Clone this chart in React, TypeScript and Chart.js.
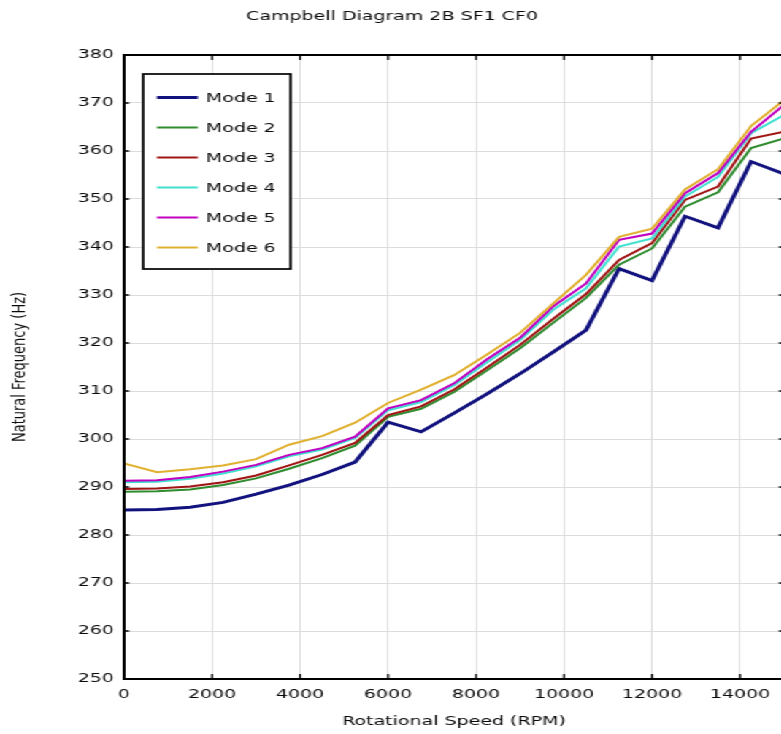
import React, { useEffect, useRef } from "react";
import { Chart, registerables } from "chart.js";

Chart.register(...registerables);

// ---- data ----
const speeds = [0, 750, 1500, 2250, 3000, 3750, 4500, 5250, 6000, 6750, 7500, 8250, 9000, 9750, 10500, 11250, 12000, 12750, 13500, 14250, 15000];

const mode1 = [285.2, 285.3, 285.8, 286.8, 288.5, 290.4, 292.6, 295.2, 303.5, 301.5, 305.4, 309.4, 313.6, 318.1, 322.7, 335.5, 333.0, 346.4, 344.0, 357.8, 355.2];
const mode2 = [289.0, 289.1, 289.5, 290.4, 291.8, 293.8, 296.0, 298.6, 304.6, 306.3, 309.8, 314.3, 318.9, 324.2, 329.4, 336.3, 339.7, 348.4, 351.4, 360.6, 362.6];
const mode3 = [289.6, 289.7, 290.1, 291.0, 292.4, 294.5, 296.7, 299.2, 305.0, 306.8, 310.3, 314.9, 319.6, 325.0, 330.2, 337.3, 340.8, 349.8, 352.6, 362.6, 364.0];
const mode4 = [291.0, 291.1, 291.7, 292.8, 294.3, 296.4, 297.8, 300.2, 306.0, 307.7, 311.2, 316.0, 320.6, 326.9, 331.4, 340.1, 341.8, 350.5, 354.6, 363.7, 367.5];
const mode5 = [291.3, 291.4, 292.1, 293.2, 294.6, 296.7, 298.1, 300.5, 306.4, 308.1, 311.6, 316.6, 321.1, 327.6, 332.4, 341.5, 342.8, 351.2, 355.4, 364.0, 369.6];
const mode6 = [294.9, 293.1, 293.7, 294.5, 295.8, 298.8, 300.6, 303.4, 307.5, 310.3, 313.3, 317.6, 322.1, 328.2, 334.2, 342.1, 343.8, 352.0, 356.2, 365.2, 370.6];

const modeNames = ["Mode 1", "Mode 2", "Mode 3", "Mode 4", "Mode 5", "Mode 6"];
const modeValues = [mode1, mode2, mode3, mode4, mode5, mode6];
const modeColors = ["#12127e", "#2e8b2e", "#a01414", "#40e0d0", "#c000c0", "#e0b030"];
const modeWidths = [3, 2, 2, 2, 2, 2];

const xTickValues = [0, 2000, 4000, 6000, 8000, 10000, 12000, 14000];
const yTickValues = [250, 260, 270, 280, 290, 300, 310, 320, 330, 340, 350, 360, 370, 380];

const chartTitle = "Campbell Diagram 2B SF1 CF0";
const xTitle = "Rotational Speed (RPM)";
const yTitle = "Natural Frequency (Hz)";

// ---- layout ----
const STRETCH = 1.46;
const W = 548;
const H = 734;
const FAMILY = "'DejaVu Sans', sans-serif";
const TEXT = "#0a0a0a";

const framePlugin = {
  id: "frame",
  afterDraw(chart: any) {
    const { ctx, chartArea: a, scales } = chart;
    const xs = scales.x;
    const ys = scales.y;
    ctx.save();
    ctx.strokeStyle = "#000";
    ctx.lineWidth = 1.3;
    xs.ticks.forEach((t: any) => {
      const px = xs.getPixelForValue(t.value);
      ctx.beginPath();
      ctx.moveTo(px, a.bottom);
      ctx.lineTo(px, a.bottom - 5);
      ctx.moveTo(px, a.top);
      ctx.lineTo(px, a.top + 5);
      ctx.stroke();
    });
    ys.ticks.forEach((t: any) => {
      const py = ys.getPixelForValue(t.value);
      ctx.beginPath();
      ctx.moveTo(a.left, py);
      ctx.lineTo(a.left + 3.5, py);
      ctx.moveTo(a.right, py);
      ctx.lineTo(a.right - 3.5, py);
      ctx.stroke();
    });
    ctx.lineWidth = 2;
    ctx.strokeRect(a.left, a.top, a.right - a.left, a.bottom - a.top);
    ctx.restore();
  },
};

const legendBoxPlugin = {
  id: "legendBox",
  afterDraw(chart: any) {
    const { ctx, chartArea: a } = chart;
    const x0 = a.left + 13;
    const y0 = a.top + 19;
    const w = 101;
    const h = 195;
    ctx.save();
    ctx.fillStyle = "#fff";
    ctx.fillRect(x0, y0, w, h);
    ctx.strokeStyle = "#000";
    ctx.lineWidth = 1.7;
    ctx.strokeRect(x0, y0, w, h);
    ctx.font = `13px ${FAMILY}`;
    ctx.textBaseline = "middle";
    ctx.textAlign = "left";
    chart.data.datasets.forEach((ds: any, i: number) => {
      const y = y0 + 23.5 + i * 30;
      ctx.strokeStyle = ds.borderColor;
      ctx.lineWidth = ds.borderWidth;
      ctx.beginPath();
      ctx.moveTo(x0 + 9.5, y);
      ctx.lineTo(x0 + 37.5, y);
      ctx.stroke();
      ctx.fillStyle = TEXT;
      ctx.fillText(ds.label, x0 + 43, y + 1);
    });
    ctx.restore();
  },
};

export default function App() {
  const ref = useRef<HTMLCanvasElement | null>(null);

  useEffect(() => {
    if (!ref.current) return;
    const font = { family: FAMILY, size: 13, weight: "normal" as const };
    const chart = new Chart(ref.current, {
      type: "line",
      data: {
        datasets: modeNames.map((name, i) => ({
          label: name,
          data: speeds.map((s, j) => ({ x: s, y: modeValues[i][j] })),
          borderColor: modeColors[i],
          backgroundColor: modeColors[i],
          borderWidth: modeWidths[i],
          pointRadius: 0,
          tension: 0,
          fill: false,
          order: modeNames.length - i,
        })),
      },
      options: {
        responsive: false,
        animation: false,
        devicePixelRatio: 1,
        layout: { padding: { left: 0, right: 11, top: 0, bottom: 0 } },
        plugins: {
          legend: { display: false },
          tooltip: { enabled: false },
          title: {
            display: true,
            text: chartTitle,
            color: TEXT,
            font,
            padding: { top: 9, bottom: 30.4 },
          },
        },
        scales: {
          x: {
            type: "linear",
            min: 0,
            max: 15000,
            afterBuildTicks: (s: any) => {
              s.ticks = xTickValues.map((v) => ({ value: v }));
            },
            ticks: {
              font,
              color: TEXT,
              padding: 8,
              maxRotation: 0,
              autoSkip: false,
              callback: (v: any) => String(v),
            },
            grid: { color: "#dcdcdc", drawTicks: false, lineWidth: 1 },
            border: { display: false },
            title: {
              display: true,
              text: xTitle,
              color: TEXT,
              font,
              padding: { top: 0, bottom: 5 },
            },
            afterFit: (s: any) => {
              s.height = 55;
            },
          },
          y: {
            type: "linear",
            min: 250,
            max: 380,
            afterBuildTicks: (s: any) => {
              s.ticks = yTickValues.map((v) => ({ value: v }));
            },
            ticks: { font, color: TEXT, padding: 7, autoSkip: false, callback: (v: any) => String(v) },
            grid: { color: "#dcdcdc", drawTicks: false, lineWidth: 1 },
            border: { display: false },
            title: {
              display: true,
              text: yTitle,
              color: TEXT,
              font,
              padding: { top: 6, bottom: 0 },
            },
            afterFit: (s: any) => {
              s.width = 85;
            },
          },
        },
      },
      plugins: [framePlugin, legendBoxPlugin],
    });
    return () => chart.destroy();
  }, []);

  return (
    <div
      style={{
        position: "fixed",
        left: 0,
        top: 0,
        width: W,
        height: H,
        transform: `scaleX(${STRETCH})`,
        transformOrigin: "0 0",
        background: "#fff",
      }}
    >
      <canvas ref={ref} width={W} height={H} style={{ width: W, height: H, display: "block" }} />
    </div>
  );
}
